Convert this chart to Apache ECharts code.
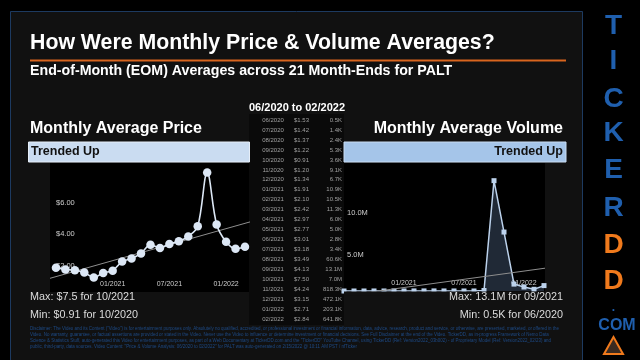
<!DOCTYPE html>
<html><head><meta charset="utf-8">
<script src="https://cdn.jsdelivr.net/npm/echarts@6/dist/echarts.min.js"></script>
<style>html,body{margin:0;padding:0;background:#000}#c{width:640px;height:360px}</style>
</head><body><div id="c"></div><script>
// ---- data ----
const months = ['06/2020','07/2020','08/2020','09/2020','10/2020','11/2020','12/2020','01/2021','02/2021','03/2021','04/2021','05/2021','06/2021','07/2021','08/2021','09/2021','10/2021','11/2021','12/2021','01/2022','02/2022'];
const prices = [1.53,1.42,1.37,1.22,0.91,1.20,1.34,1.91,2.10,2.42,2.97,2.77,3.01,3.18,3.49,4.13,7.50,4.24,3.15,2.71,2.84];
const volumes = [500,1400,2400,5300,3600,9100,6700,10900,10500,11300,6000,5000,2800,3400,60600,13100000,7000000,818300,472100,203100,641800];
const priceTicks = [2,4,6];
const volumeTicks = [5000000,10000000];
const xTickIdx = [6,12,18];
const xTickLabels = ['01/2021','07/2021','01/2022'];

const FF = '"Liberation Sans", Arial, sans-serif';
const fmtVol = v => v >= 1e6 ? (v/1e6).toFixed(1)+'M' : (v/1e3).toFixed(1)+'K';
function regress(arr){
  const n = arr.length; let sx=0, sy=0, sxy=0, sxx=0;
  arr.forEach((y,x)=>{sx+=x; sy+=y; sxy+=x*y; sxx+=x*x;});
  const b = (n*sxy - sx*sy)/(n*sxx - sx*sx); const a = (sy - b*sx)/n;
  return x => a + b*x;
}
const pT = regress(prices), vT = regress(volumes);
const PX = [-0.63, 20.53], VX = [0, 20.1];

function txt(x,y,text,size,opt){
  opt = opt||{};
  return {type:'text', x:x, y:y, z:100, silent:true, style:{text:text, fill:opt.fill||'#fff',
    font:(opt.bold?'bold ':'')+size+'px '+FF, align:opt.align||'left', verticalAlign:'middle'}};
}
const g = [];
g.push({type:'rect', z:-20, shape:{x:10.5,y:11.5,width:572,height:360}, style:{fill:'#111111', stroke:'#1d3a60', lineWidth:1}});
g.push(txt(30,43,'How Were Monthly Price & Volume Averages?',21.3,{bold:true}));
g.push({type:'rect', z:5, shape:{x:30,y:59.5,width:536,height:2}, style:{fill:'#d9651e'}});
g.push(txt(30,71,'End-of-Month (EOM) Averages across 21 Month-Ends for PALT',14.2,{bold:true}));
g.push(txt(297,107.5,'06/2020 to 02/2022',11,{bold:true,align:'center'}));
// chart boxes and table background
g.push({type:'rect', z:-10, shape:{x:50,y:163,width:200,height:129}, style:{fill:'#000'}});
g.push({type:'rect', z:-10, shape:{x:344,y:163,width:201,height:128.5}, style:{fill:'#000'}});
g.push({type:'rect', z:-9, shape:{x:249,y:114,width:95,height:211}, style:{fill:'#0a0a0a'}});
months.forEach((m,i)=>{
  const y = 120 + i*9.97;
  g.push(txt(273,y,m,6,{fill:'#a0a0a0',align:'center'}));
  g.push(txt(309,y,'$'+prices[i].toFixed(2),6,{fill:'#a0a0a0',align:'right'}));
  g.push(txt(342,y,fmtVol(volumes[i]),6,{fill:'#a0a0a0',align:'right'}));
});
g.push(txt(30,128.5,'Monthly Average Price',16,{bold:true}));
g.push({type:'rect', z:-5, shape:{x:28.5,y:142,width:221,height:20}, style:{fill:'#cadcf1', stroke:'#e6eef8', lineWidth:1}});
g.push(txt(31,152,'Trended Up',12.5,{bold:true,fill:'#111'}));
g.push(txt(563,128.5,'Monthly Average Volume',16,{bold:true,align:'right'}));
g.push({type:'rect', z:-5, shape:{x:344,y:142,width:222,height:20}, style:{fill:'#a5c5e9', stroke:'#c9dcf2', lineWidth:1}});
g.push(txt(563,152,'Trended Up',12.5,{bold:true,fill:'#111',align:'right'}));
g.push({type:'rect', z:50, shape:{x:344,y:291.5,width:202,height:4}, style:{fill:'#111111'}});
g.push(txt(30,297.5,'Max: $7.5 for 10/2021',10.8,{fill:'#dddddd'}));
g.push(txt(30,315,'Min: $0.91 for 10/2020',10.8,{fill:'#dddddd'}));
g.push(txt(563,297.5,'Max: 13.1M for 09/2021',10.8,{fill:'#dddddd',align:'right'}));
g.push(txt(563,315,'Min: 0.5K for 06/2020',10.8,{fill:'#dddddd',align:'right'}));
const disc = [
 'Disclaimer: The Video and its Content ("Video") is for entertainment purposes only. Absolutely no qualified, accredited, or professional investment or financial information, data, advice, research, product and service, or otherwise, are presented, marketed, or offered in the',
 'Video. No warranty, guarantee, or factual assertions are provided or stated in the Video. Never use the Video to influence or determine investment or financial decisions. See Full Disclaimer at the end of the Video. TickerDD, as in-progress Framework of Nemo Data',
 'Science & Statistics Stuff, auto-generated this Video for entertainment purposes, as part of a Web Documentary at TickerDD.com and the "TickerDD" YouTube Channel, using TickerDD (Ref: Version2022_03b002) - of Proprietary Model (Ref: Version2022_02/23) and',
 'public, third-party, data sources. Video Content: "Price & Volume Analysis: 06/2020 to 02/2022" for PALT was auto-generated on 2/15/2022 @ 10:11 AM PST / nfTicker'
];
disc.forEach((l,i)=>g.push(txt(30,328.5+i*6.1,l,4.45,{fill:'#1d4a86'})));
// logo
const logo = [['T',26.7,'#1f5fae'],['I',61.7,'#1f5fae'],['C',99.5,'#1f5fae'],['K',133.5,'#1f5fae'],['E',170.5,'#1f5fae'],['R',208,'#1f5fae'],['D',245,'#f07a1c'],['D',281.5,'#f07a1c']];
logo.forEach(l=>g.push(txt(613.5,l[1],l[0],28,{bold:true,fill:l[2],align:'center'})));
g.push(txt(613.5,308,'.',12,{bold:true,fill:'#1f5fae',align:'center'}));
g.push(txt(617,326,'COM',16,{bold:true,fill:'#1f5fae',align:'center'}));
g.push({type:'polygon', z:100, shape:{points:[[613.5,337],[604,354],[623,354]]}, style:{fill:'#3a2a20', stroke:'#f07a1c', lineWidth:2}});

const axisBase = {axisLine:{show:false}, axisTick:{show:false}, splitLine:{show:false}};
const option = {
  backgroundColor:'#000',
  animation:false,
  graphic: g,
  grid:[
    {left:50, top:163, width:200, height:129, containLabel:false, outerBoundsMode:'none'},
    {left:344, top:163, width:201, height:128, containLabel:false, outerBoundsMode:'none'}
  ],
  xAxis:[
    Object.assign({type:'value', gridIndex:0, min:PX[0], max:PX[1],
      axisLabel:{inside:true, customValues:xTickIdx, formatter:v=>xTickLabels[xTickIdx.indexOf(v)]||'', color:'#cccccc', fontSize:7, fontFamily:FF, margin:4}}, axisBase),
    Object.assign({type:'value', gridIndex:1, min:VX[0], max:VX[1],
      axisLabel:{inside:true, customValues:xTickIdx, formatter:v=>xTickLabels[xTickIdx.indexOf(v)]||'', color:'#cccccc', fontSize:7, fontFamily:FF, margin:4}}, axisBase)
  ],
  yAxis:[
    Object.assign({type:'value', gridIndex:0, min:0, max:8.1,
      axisLabel:{inside:true, customValues:priceTicks, formatter:v=>'$'+v.toFixed(2), color:'#cccccc', fontSize:7.5, fontFamily:FF, margin:6, verticalAlign:'top', padding:[2,0,0,0]}}, axisBase),
    Object.assign({type:'value', gridIndex:1, min:0, max:15200000,
      axisLabel:{inside:true, customValues:volumeTicks, formatter:v=>(v/1e6).toFixed(1)+'M', color:'#cccccc', fontSize:7.5, fontFamily:FF, margin:3, verticalAlign:'top', padding:[2,0,0,0]}}, axisBase)
  ],
  series:[
    {type:'line', xAxisIndex:0, yAxisIndex:0, data:PX.map(x=>[x,pT(x)]), symbol:'none', lineStyle:{color:'#8e8e8e', width:1}, z:1, silent:true},
    {type:'line', xAxisIndex:0, yAxisIndex:0, data:prices.map((v,i)=>[i,v]), smooth:0.35, symbol:'circle', symbolSize:8.5,
      itemStyle:{color:'#dce7f5'}, lineStyle:{color:'#dce7f5', width:1.6}, z:3, silent:true},
    {type:'line', xAxisIndex:1, yAxisIndex:1, data:volumes.map((v,i)=>[i,v]), symbol:'rect', symbolSize:5,
      itemStyle:{color:'#bcd2ec'}, lineStyle:{color:'#bcd2ec', width:1.5}, areaStyle:{color:'rgba(110,140,185,0.42)'}, z:3, silent:true},
    {type:'line', xAxisIndex:1, yAxisIndex:1, data:VX.map(x=>[x,vT(x)]), symbol:'none', lineStyle:{color:'#8e8e8e', width:1}, z:4, clip:true, silent:true}
  ]
};
echarts.init(document.getElementById('c')).setOption(option);
</script></body></html>
